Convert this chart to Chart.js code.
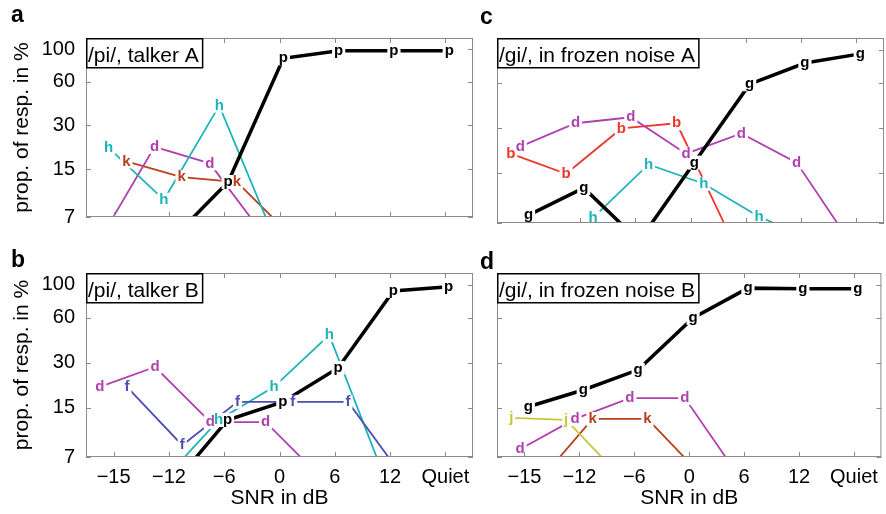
<!DOCTYPE html>
<html>
<head>
<meta charset="utf-8">
<script src="https://cdn.jsdelivr.net/npm/chart.js@4.4.0/dist/chart.umd.min.js"></script>
<style>
  body { margin: 0; background: #fff; }
  #wrap { position: relative; width: 886px; height: 514px; overflow: hidden; background: #fff;
          font-family: "Liberation Sans", Arial, sans-serif; }
  canvas { position: absolute; }
  .tag { position: absolute; font-weight: bold; font-size: 23px; line-height: 23px; color: #000; }
</style>
</head>
<body>
<div id="wrap">
  <canvas id="chartA" width="480" height="240" style="left:0;top:0"></canvas>
  <canvas id="chartB" width="480" height="274" style="left:0;top:240px"></canvas>
  <canvas id="chartC" width="406" height="240" style="left:480px;top:0"></canvas>
  <canvas id="chartD" width="406" height="274" style="left:480px;top:240px"></canvas>
  <div class="tag" style="left:11px;top:3px">a</div>
  <div class="tag" style="left:11px;top:248px">b</div>
  <div class="tag" style="left:480px;top:5px">c</div>
  <div class="tag" style="left:480px;top:250px">d</div>
</div>
<script>
const snrLabels = ['\u221215', '\u221212', '\u22126', '0', '6', '12', 'Quiet'];
const yTicks = [7, 15, 30, 60, 100];

// a: /pi/, talker A
const aP = [null, 5.0, 12.2, 87, 98, 98, 98];
const aH = [21, 9.2, 41, 5.0, null, null, null];
const aD = [4.8, 21.3, 16.4, 5.1, null, null, null];
const aK = [16.9, 13.2, 12.2, 5.1, null, null, null];

// b: /pi/, talker B
const bP = [null, 4.5, 12.4, 16.4, 27.7, 91, 97];
const bH = [null, 4.9, 12.4, 20.7, 46, 5.1, null];
const bD = [20.7, 28.1, 12.0, 12.0, 5.1, null, null];
const bF = [20.7, 8.4, 16.4, 16.4, 16.4, 5.1, null];

// c: /gi/, in frozen noise A
const cG = [7.9, 12.0, 5.3, 17.7, 59, 81.7, 94];
const cD = [22.6, 32.4, 35.5, 20.3, 27.7, 17.7, 5.0];
const cB = [20.3, 14.9, 29.9, 32.4, 5.4, null, null];
const cH = [3, 7.6, 17.2, 12.8, 7.7, 5.4, null];

// d: /gi/, in frozen noise B
const dG = [15.2, 19.7, 26.9, 60, 95, 94, 94];
const dD = [7.9, 12.6, 17.4, 17.4, 5.1, null, null];
const dJ = [12.8, 12.4, 5.1, null, null, null, null];
const dK = [4.7, 12.6, 12.6, 5.2, null, null, null];

const colors = {
    black: '#000000',
    cyan: '#1cb4b8',
    magenta: '#b23fb0',
    brown: '#b8401e',
    red: '#f0362a',
    blue: '#4a4fb2',
    yellow: '#c6c83a'
};

const FONT = '"Liberation Sans", Arial, sans-serif';
const LETTER_FONT = 'bold 15px ' + FONT;

// each letter is nudged sideways a bit so they do not sit on top of each other
function series(letter, values, color, shift) {
    const main = color === colors.black;
    const data = [];
    values.forEach((v, i) => {
        if (v !== null) data.push({ x: i + shift, y: v });
    });
    return {
        letter: letter,
        data: data,
        borderColor: color,
        backgroundColor: color,
        borderWidth: main ? 3.5 : 1.8,
        pointRadius: 0,
        tension: 0,
        order: main ? 0 : 1
    };
}

const decorPlugin = {
    id: 'decor',
    afterDraw(chart) {
        const ctx = chart.ctx;
        const area = chart.chartArea;
        const xs = chart.scales.x;
        const ys = chart.scales.y;
        const title = chart.options.plugins.decor.title;

        const marks = [];
        chart.data.datasets.forEach((ds, i) => {
            const meta = chart.getDatasetMeta(i);
            meta.data.forEach((pt, j) => {
                if (ds.data[j].y < ys.min) return;
                marks.push({ x: pt.x, y: pt.y, letter: ds.letter, color: ds.borderColor });
            });
        });

        ctx.save();
        ctx.textAlign = 'center';
        ctx.textBaseline = 'middle';
        ctx.font = LETTER_FONT;

        // white patches so the lines stop short of the letters
        marks.forEach(m => {
            const w = ctx.measureText(m.letter).width + 4;
            ctx.fillStyle = '#ffffff';
            ctx.fillRect(m.x - w / 2, m.y - 7, w, 14);
        });

        // frame with inward ticks
        ctx.strokeStyle = '#8a8a8a';
        ctx.lineWidth = 1;
        ctx.strokeRect(area.left + 0.5, area.top + 0.5, area.right - area.left - 1, area.bottom - area.top - 1);
        ctx.beginPath();
        snrLabels.forEach((lab, i) => {
            const px = Math.round(xs.getPixelForValue(i)) + 0.5;
            ctx.moveTo(px, area.bottom);
            ctx.lineTo(px, area.bottom - 5);
            ctx.moveTo(px, area.top);
            ctx.lineTo(px, area.top + 5);
        });
        yTicks.forEach(v => {
            const py = Math.round(ys.getPixelForValue(v)) + 0.5;
            ctx.moveTo(area.left, py);
            ctx.lineTo(area.left + 5, py);
            ctx.moveTo(area.right, py);
            ctx.lineTo(area.right - 5, py);
        });
        ctx.stroke();

        // letters
        marks.forEach(m => {
            ctx.fillStyle = m.color;
            ctx.fillText(m.letter, m.x, m.y);
        });

        // title box
        ctx.font = '21px ' + FONT;
        const tw = ctx.measureText(title).width;
        ctx.fillStyle = '#ffffff';
        ctx.fillRect(area.left, area.top, tw + 6, 30);
        ctx.strokeStyle = '#000000';
        ctx.lineWidth = 1.5;
        ctx.strokeRect(area.left + 0.75, area.top + 0.75, tw + 5, 29);
        ctx.fillStyle = '#000000';
        ctx.textAlign = 'left';
        ctx.textBaseline = 'alphabetic';
        ctx.fillText(title, area.left + 2, area.top + 24);
        ctx.restore();
    }
};

function makePanel(id, datasets, title, showX, showY, padding, xHeight, yWidth) {
    return new Chart(document.getElementById(id), {
        type: 'line',
        data: { datasets: datasets },
        plugins: [decorPlugin],
        options: {
            responsive: false,
            animation: false,
            devicePixelRatio: 1,
            layout: { padding: padding },
            plugins: {
                legend: { display: false },
                tooltip: { enabled: false },
                decor: { title: title }
            },
            scales: {
                x: {
                    type: 'linear',
                    min: -0.5,
                    max: 6.5,
                    afterBuildTicks: scale => { scale.ticks = snrLabels.map((l, i) => ({ value: i })); },
                    afterFit: scale => { scale.height = xHeight; },
                    grid: { display: false, drawTicks: false },
                    border: { display: false },
                    ticks: {
                        display: showX,
                        autoSkip: false,
                        maxRotation: 0,
                        padding: 8,
                        color: '#000',
                        font: { family: FONT, size: 20 },
                        callback: v => snrLabels[v]
                    },
                    title: {
                        display: showX,
                        text: 'SNR in dB',
                        color: '#000',
                        font: { family: FONT, size: 21 },
                        padding: { top: 0, bottom: 3 }
                    }
                },
                y: {
                    type: 'logarithmic',
                    min: 7,
                    max: 120,
                    afterBuildTicks: scale => { scale.ticks = yTicks.map(v => ({ value: v })); },
                    afterFit: scale => { scale.width = yWidth; },
                    grid: { display: false, drawTicks: false },
                    border: { display: false },
                    ticks: {
                        display: showY,
                        padding: 11,
                        color: '#000',
                        font: { family: FONT, size: 20 },
                        callback: v => String(v)
                    },
                    title: {
                        display: showY,
                        text: 'prop. of resp. in %',
                        color: '#000',
                        font: { family: FONT, size: 21 },
                        padding: { top: 10, bottom: 0 }
                    }
                }
            }
        }
    });
}

makePanel('chartA', [
    series('h', aH, colors.cyan, -0.09),
    series('d', aD, colors.magenta, -0.26),
    series('k', aK, colors.brown, 0.23),
    series('p', aP, colors.black, 0.07)
], '/pi/, talker A', false, true, { left: 0, top: 38, right: 7, bottom: 0 }, 17, 86);

makePanel('chartB', [
    series('d', bD, colors.magenta, -0.25),
    series('f', bF, colors.blue, 0.24),
    series('h', bH, colors.cyan, -0.1),
    series('p', bP, colors.black, 0.06)
], '/pi/, talker B', true, true, { left: 0, top: 33, right: 7, bottom: 0 }, 57, 86);

makePanel('chartC', [
    series('d', cD, colors.magenta, -0.08),
    series('b', cB, colors.red, -0.25),
    series('h', cH, colors.cyan, 0.24),
    series('g', cG, colors.black, 0.07)
], '/gi/, in frozen noise A', false, false, { left: 0, top: 38, right: 2, bottom: 0 }, 17, 17);

makePanel('chartD', [
    series('j', dJ, colors.yellow, -0.24),
    series('d', dD, colors.magenta, -0.08),
    series('k', dK, colors.brown, 0.24),
    series('g', dG, colors.black, 0.07)
], '/gi/, in frozen noise B', true, false, { left: 0, top: 33, right: 2, bottom: 0 }, 57, 17);
</script>
</body>
</html>
